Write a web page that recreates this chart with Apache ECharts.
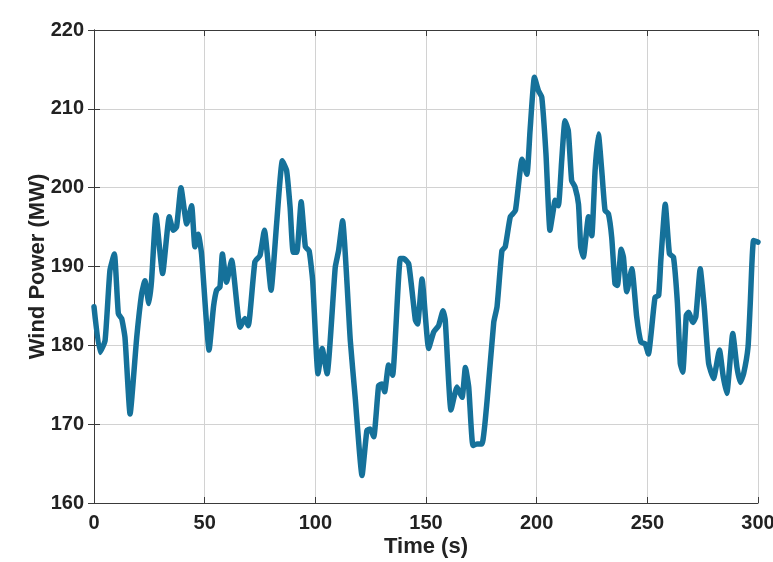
<!DOCTYPE html>
<html>
<head>
<meta charset="utf-8">
<script src="https://cdn.jsdelivr.net/npm/echarts@6/dist/echarts.min.js"></script>
<style>html,body{margin:0;padding:0;background:#fff}#c{width:773px;height:562px}</style>
</head>
<body>
<div id="c"></div>
<script>
var times = [0,2.7,5,7.2,9.2,11,12.5,14,16.3,19.3,21.5,23,24.8,26,28,31,34,35.8,37.3,39.3,41.9,44.1,45.6,47.1,48.6,52,54,55.4,56.9,58,59.9,62.2,66,68.2,69.7,72.7,75,77,80,82.5,85.1,87,88.6,90,91.6,93.6,95.5,97.2,98.8,101.2,103.1,105.3,109,110.5,112.3,115.8,118,121.1,123.3,124.8,126.4,128.6,130.1,131.3,133.1,134.9,138.4,139.9,142.2,145.2,146.2,148.2,151.2,153.5,155.7,157.7,158.7,161.3,164,166.3,167.8,169.3,171.2,173,175.3,177.6,180.6,182.1,184.3,185.8,188.1,190.4,193.4,195.6,197,199,200.8,202.3,204.2,206,207.5,208.3,209.8,211.3,212.8,214.3,215.8,217.3,218.9,219.9,221.1,223.4,224.9,226.4,227.9,229.4,230.9,232.4,233.9,235.4,236.5,238.2,239.2,240.7,243,245.2,247.1,249,250.5,252,253.5,255.1,256.1,258.1,260,261.8,263.6,264.9,266,267.6,268.6,270.6,271.9,273.9,275.7,277.7,279.9,282.6,284.2,285.9,288.6,290.5,292,293.5,295.5,296.5,298,300];
var power = [184.9,179.1,180.6,189.5,191.6,184,183.4,181,171.3,181,186.5,188.2,185.3,188.2,196.5,189.1,196.3,194.6,195,200,195.4,197.7,192.5,194.1,191.6,179.4,184.9,187,187.4,191.6,188,190.8,182.3,183.4,182.5,190.6,191.4,194.6,187,195.4,203.4,202.2,197.5,191.8,191.8,198.2,192.5,192,188.2,176.4,179.6,176.4,189.9,192,195.8,180.6,173.4,163.5,169.2,169.4,168.4,174.9,175.1,174.1,177.5,176.2,191,191,190.3,183.2,182.7,188.4,179.6,181.7,182.5,184.4,183.2,171.8,174.7,173.4,177.2,174.7,167.3,167.5,167.5,173,182.9,184.9,192,192.5,196.3,197.1,203.6,201.7,207.2,214,212.3,211.5,204.3,194.6,197.1,198.4,197.7,203.4,208.5,207.2,200.9,200.1,197.9,192.5,191.2,196.3,193.9,202.2,206.8,202.2,197.1,196.7,193.7,187.8,187.6,192.2,191.2,186.8,189.7,183.6,180.4,180.2,178.9,182.3,186.1,186.3,190.8,197.9,191.6,191.2,185.3,177.7,176.6,183.8,184.2,182.9,183.6,189.7,184.9,177.7,175.8,179.4,176.2,173.9,181.5,177.2,175.3,176.4,179.8,185.3,193.3,193.1];
var xTicks = [0,50,100,150,200,250,300];
var yTicks = [160,170,180,190,200,210,220];

var data = times.map(function(t,i){return [t, power[i]];});
var font = 'Arial, "Liberation Sans", Helvetica, sans-serif';
var chart = echarts.init(document.getElementById('c'), null, {renderer:'canvas'});
chart.setOption({
  backgroundColor:'#ffffff',
  animation:false,
  grid:{left:94,right:15,top:30,bottom:59,show:false,containLabel:false,outerBoundsMode:'none'},
  xAxis:[{
    type:'value',min:xTicks[0],max:xTicks[xTicks.length-1],interval:50,
    name:'Time (s)',nameLocation:'middle',nameGap:33,nameMoveOverlap:false,
    nameTextStyle:{fontFamily:font,fontWeight:'bold',fontSize:22,color:'#222',verticalAlign:'top'},
    axisLine:{show:true,lineStyle:{color:'#3a3a3a',width:1}},
    axisTick:{show:true,inside:true,length:6,lineStyle:{color:'#3a3a3a'}},
    axisLabel:{fontFamily:font,fontWeight:'bold',fontSize:20,color:'#222',margin:10},
    splitLine:{show:true,lineStyle:{color:'#d2d2d2',width:1}}
  },{
    type:'value',position:'top',min:0,max:300,interval:50,
    axisLine:{show:true,lineStyle:{color:'#3a3a3a',width:1}},
    axisTick:{show:true,inside:true,length:6,lineStyle:{color:'#3a3a3a'}},
    axisLabel:{show:false},splitLine:{show:false}
  }],
  yAxis:[{
    type:'value',min:yTicks[0],max:yTicks[yTicks.length-1],interval:10,
    name:'Wind Power (MW)',nameLocation:'middle',nameGap:45,nameRotate:90,nameMoveOverlap:false,
    nameTextStyle:{fontFamily:font,fontWeight:'bold',fontSize:22,color:'#222'},
    axisLine:{show:true,lineStyle:{color:'#3a3a3a',width:1}},
    axisTick:{show:true,inside:true,length:6,lineStyle:{color:'#3a3a3a'}},
    axisLabel:{fontFamily:font,fontWeight:'bold',fontSize:20,color:'#222',margin:10},
    splitLine:{show:true,lineStyle:{color:'#d2d2d2',width:1}}
  },{
    type:'value',position:'right',min:160,max:220,interval:10,
    axisLine:{show:true,lineStyle:{color:'#3a3a3a',width:1}},
    axisTick:{show:true,inside:true,length:6,lineStyle:{color:'#3a3a3a'}},
    axisLabel:{show:false},splitLine:{show:false}
  }],
  series:[{
    type:'line',data:data,xAxisIndex:0,yAxisIndex:0,
    showSymbol:false,smooth:0.15,
    lineStyle:{color:'#15719a',width:5.5,join:'round',cap:'round'}
  }]
});
</script>
</body>
</html>
